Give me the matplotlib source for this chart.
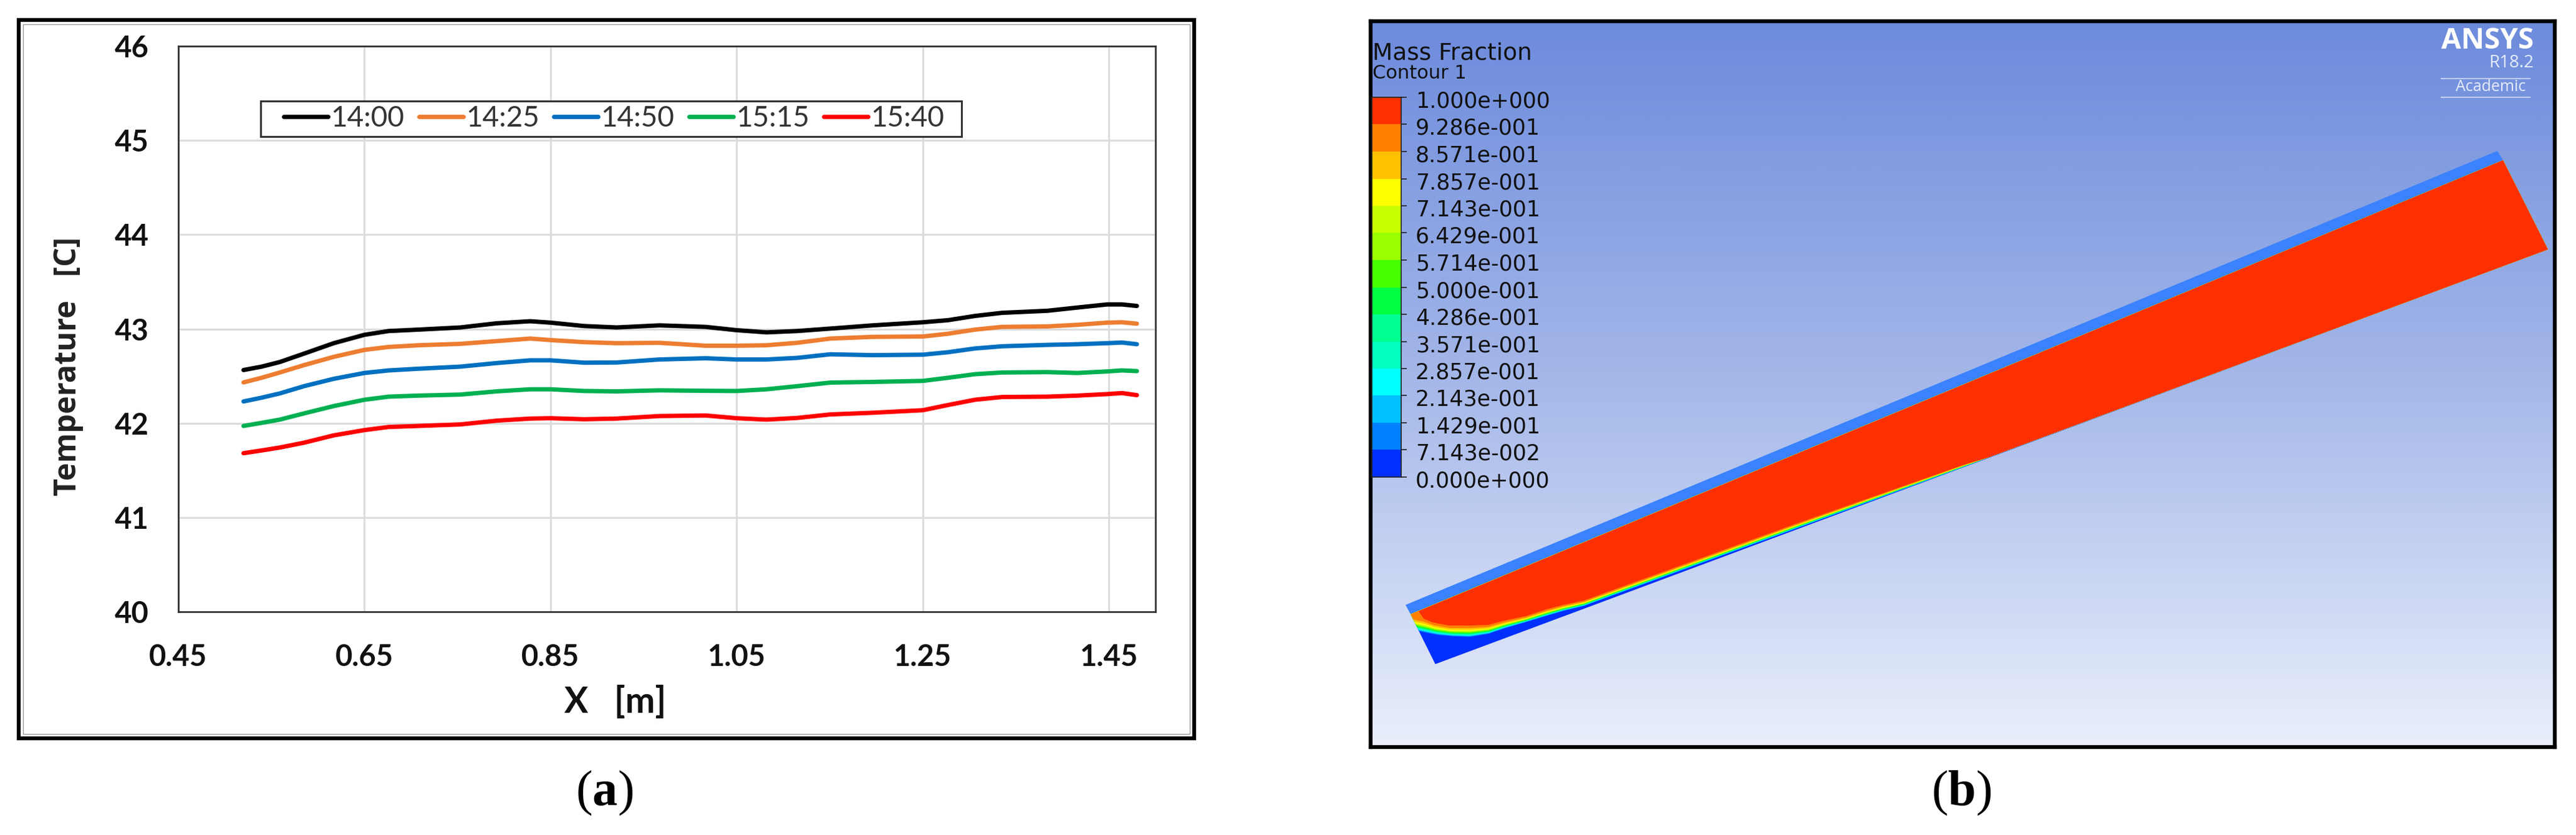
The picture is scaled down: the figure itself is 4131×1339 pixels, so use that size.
import numpy as np
import matplotlib
matplotlib.use("Agg")
import matplotlib.pyplot as plt
from matplotlib.patches import Rectangle, Polygon
from matplotlib.colors import LinearSegmentedColormap, ListedColormap, BoundaryNorm
from matplotlib.transforms import ScaledTranslation

W, H = 4131, 1339
plt.rcParams['mathtext.fontset'] = 'custom'
plt.rcParams['mathtext.bf'] = 'Liberation Serif:bold'
plt.rcParams['mathtext.rm'] = 'Liberation Serif'

# ---------- panel (a) data ----------
x_vals = [0.52, 0.5395, 0.559, 0.585, 0.617, 0.65, 0.676, 0.708, 0.753, 0.792, 0.828, 0.85, 0.886, 0.921, 0.967, 1.0165,
          1.05, 1.082, 1.115, 1.1505, 1.196, 1.25, 1.277, 1.306, 1.335, 1.384, 1.416, 1.448, 1.464, 1.48]
t1400 = [42.564, 42.60, 42.649, 42.738, 42.849, 42.938, 42.978, 42.993, 43.016, 43.06, 43.082, 43.067, 43.031, 43.016, 43.038, 43.022,
         42.987, 42.964, 42.978, 43.004, 43.038, 43.071, 43.093, 43.138, 43.171, 43.193, 43.227, 43.26, 43.26, 43.244]
t1425 = [42.433, 42.482, 42.538, 42.616, 42.704, 42.778, 42.809, 42.827, 42.842, 42.871, 42.898, 42.882, 42.86, 42.849, 42.853, 42.822,
         42.822, 42.827, 42.853, 42.898, 42.916, 42.92, 42.949, 42.993, 43.022, 43.027, 43.044, 43.067, 43.071, 43.056]
t1450 = [42.231, 42.271, 42.316, 42.393, 42.471, 42.533, 42.56, 42.578, 42.6, 42.638, 42.667, 42.667, 42.642, 42.644, 42.676, 42.689,
         42.676, 42.676, 42.693, 42.731, 42.722, 42.727, 42.753, 42.793, 42.816, 42.831, 42.838, 42.849, 42.856, 42.838]
t1515 = [41.971, 42.004, 42.038, 42.104, 42.182, 42.249, 42.282, 42.293, 42.304, 42.338, 42.36, 42.36, 42.342, 42.338, 42.349, 42.344,
         42.342, 42.36, 42.393, 42.431, 42.438, 42.449, 42.482, 42.52, 42.538, 42.542, 42.533, 42.549, 42.56, 42.553]
t1540 = [41.682, 41.711, 41.742, 41.793, 41.871, 41.927, 41.96, 41.971, 41.987, 42.027, 42.049, 42.053, 42.042, 42.049, 42.076, 42.082,
         42.053, 42.038, 42.056, 42.093, 42.111, 42.138, 42.193, 42.249, 42.278, 42.282, 42.293, 42.309, 42.32, 42.298]
series_labels = ['14:00', '14:25', '14:50', '15:15', '15:40']
series_values = [t1400, t1425, t1450, t1515, t1540]
series_colors = ['#000000', '#ED7D31', '#0070C0', '#00B050', '#FF0000']
x_ticks = [0.45, 0.65, 0.85, 1.05, 1.25, 1.45]
y_ticks = [40, 41, 42, 43, 44, 45, 46]

# ---------- panel (b) data ----------
levels = [0.0, 0.07143, 0.1429, 0.2143, 0.2857, 0.3571, 0.4286, 0.5, 0.5714, 0.6429, 0.7143, 0.7857, 0.8571, 0.9286, 1.0]
level_labels = ['0.000e+000', '7.143e-002', '1.429e-001', '2.143e-001', '2.857e-001', '3.571e-001', '4.286e-001',
                '5.000e-001', '5.714e-001', '6.429e-001', '7.143e-001', '7.857e-001', '8.571e-001', '9.286e-001', '1.000e+000']
level_colors = ['#0030FF', '#0080FF', '#00C0FF', '#00FFFF', '#00FFC0', '#00FF90', '#00FF40', '#48FF00',
                '#9BFF00', '#C8FF00', '#FFFF00', '#FFC000', '#FF8000', '#FF3000']
band_depth = [0.96, 0.91, 0.86, 0.81, 0.76, 0.70, 0.64, 0.58, 0.52, 0.45, 0.36, 0.22]
air_outline = [(2254, 970), (2262, 985), (4014, 257), (4005, 242)]
domain_outline = [(2262, 985), (2301.7, 1065), (4086, 400), (4014, 257)]
red_edge = [(2264, 988), (2283, 992), (2297, 998), (2323, 1003), (2357, 1003), (2387, 1002), (2413, 995),
            (2447, 988), (2480, 977), (2507, 970), (2540, 963), (2877, 841), (3150, 745), (3190, 733)]
water_edge = [(2276, 1013), (2290, 1016), (2307, 1019), (2330, 1021), (2357, 1022), (2387, 1017), (2413, 1008),
              (2447, 998), (2480, 988), (2507, 980), (2540, 972), (2877, 849), (3150, 748.5), (3190, 733)]


def box(x0, y0, x1, y1):
    return [x0 / W, 1 - y1 / H, (x1 - x0) / W, (y1 - y0) / H]


def ftext(x, y, s, **kw):
    return fig.text(x / W, 1 - y / H, s, **kw)


fig = plt.figure(figsize=(W / 100, H / 100), dpi=100, facecolor='white')

# frames
fig.add_artist(Rectangle((30 / W, 1 - 1184 / H), 1885 / W, 1152 / H, transform=fig.transFigure,
                         fill=False, ec='black', lw=4.5))
fig.add_artist(Rectangle((37 / W, 1 - 1177 / H), 1871 / W, 1138 / H, transform=fig.transFigure,
                         fill=False, ec='#999999', lw=1))

# ---------- panel (a) ----------
ax = fig.add_axes(box(286, 74, 1853, 981))
for vals, col, lab in zip(series_values, series_colors, series_labels):
    ax.plot(x_vals, vals, color=col, lw=5, label=lab, solid_capstyle='round', solid_joinstyle='round', zorder=3)
ax.set_xlim(0.45, 1.5)
ax.set_ylim(40, 46)
ax.set_xticks(x_ticks, [f'{v:.2f}' for v in x_ticks])
ax.set_yticks(y_ticks, [str(v) for v in y_ticks])
ax.grid(True, color='#DCDCDC', lw=2.2)
ax.set_axisbelow(True)
ax.tick_params(axis='y', length=0, labelsize=34, pad=34)
ax.tick_params(axis='x', length=0, labelsize=34, pad=37)
for lab in ax.get_xticklabels() + ax.get_yticklabels():
    lab.set_family('Lato')
    lab.set_fontweight('bold')
    lab.set_color('#111111')
for s in ax.spines.values():
    s.set_color('#333333')
    s.set_linewidth(2)
ax.add_patch(Rectangle(((418 - 286) / 1567, (981 - 219) / 907), 1124 / 1567, 57 / 907, transform=ax.transAxes,
                       fc='white', ec='#333333', lw=2.2, zorder=4))
leg = ax.legend(ncol=5, loc='center left', frameon=False,
                prop={'family': 'Lato', 'size': 33}, handlelength=1.55, handletextpad=0.1, columnspacing=0.5,
                borderpad=0, borderaxespad=0)
leg.set_bbox_to_anchor(((455 - 286) / 1567, (981 - 190) / 907), transform=ax.transAxes)
leg.set_zorder(5)
for t in leg.get_texts():
    t.set_color('#333333')
ftext(110, 587, 'Temperature   [C]', rotation=90, ha='center', va='center',
      family='Open Sans', fontweight='bold', fontsize=35, color='#222222')
ftext(987, 1126, 'X   [m]', ha='center', va='center', family='Lato', fontweight='bold', fontsize=41, color='#111111')
ftext(969, 1272, r'($\mathbf{a}$)', ha='center', va='center', family='Liberation Serif', fontsize=58, color='black')
ftext(3145, 1272, r'($\mathbf{b}$)', ha='center', va='center', family='Liberation Serif', fontsize=58, color='black')

# ---------- panel (b) ----------
bx = fig.add_axes(box(2198, 34, 4097, 1198))
bg = LinearSegmentedColormap.from_list('bg', ['#6C8BDC', '#A5B8E9', '#EAEFFB'])
bx.imshow(np.linspace(0, 1, 512)[:, None], cmap=bg, aspect='auto', extent=(2198, 4097, 1198, 34), interpolation='bilinear')
bx.set_xlim(2198, 4097)
bx.set_ylim(1198, 34)
bx.set_xticks([])
bx.set_yticks([])
for s in bx.spines.values():
    s.set_color('black')
    s.set_linewidth(4.5)

bx.add_patch(Polygon(air_outline, fc='#3A82FF', ec='none'))
bx.add_patch(Polygon(domain_outline, fc=level_colors[0], ec='none'))
re = np.array(red_edge, float)
we = np.array(water_edge, float)
closure = [(4086, 400), (4014, 257), (2262, 985)]
for depth, col in zip(band_depth, level_colors[1:13]):
    curve = re + depth * (we - re)
    bx.add_patch(Polygon(np.vstack([curve, closure]), fc=col, ec='none'))
red = re.copy()
red[0] = (2275, 980)
bx.add_patch(Polygon(np.vstack([red, closure[:2]]), fc=level_colors[13], ec='none'))

cax = fig.add_axes(box(2200, 156, 2247, 765))
cax.pcolormesh([0, 1], levels, np.array(levels[:-1])[:, None] + 1e-3,
               cmap=ListedColormap(level_colors), norm=BoundaryNorm(levels, 14))
cax.set_xticks([])
cax.yaxis.tick_right()
cax.set_yticks(levels, level_labels)
cax.set_ylim(0, 1)
cax.tick_params(length=6.5, width=1.2, pad=10, labelsize=25, color='#222222', labelcolor='#111111')
for s in cax.spines.values():
    s.set_linewidth(1.2)
    s.set_color('#222222')
down = ScaledTranslation(0, -3 / 100, fig.dpi_scale_trans)
for lab in cax.get_yticklabels():
    lab.set_transform(lab.get_transform() + down)

ftext(2201, 85, 'Mass Fraction', ha='left', va='center', fontsize=27, color='#111111')
ftext(2201, 117, 'Contour 1', ha='left', va='center', fontsize=22, color='#111111')
ftext(4063, 66, 'ANSYS', ha='right', va='center', family='Open Sans', fontweight='bold', fontsize=33, color='white')
ftext(4063, 101, 'R18.2', ha='right', va='center', family='Open Sans', fontsize=20, color='#E6ECFA')
ftext(3994, 140, 'Academic', ha='center', va='center', family='Open Sans', fontsize=18, color='#E6ECFA')
for yy in (126, 156):
    bx.plot([3915, 4057], [yy, yy], color='white', alpha=0.55, lw=1.5)

fig.savefig('out.png', dpi=100, facecolor='white')
